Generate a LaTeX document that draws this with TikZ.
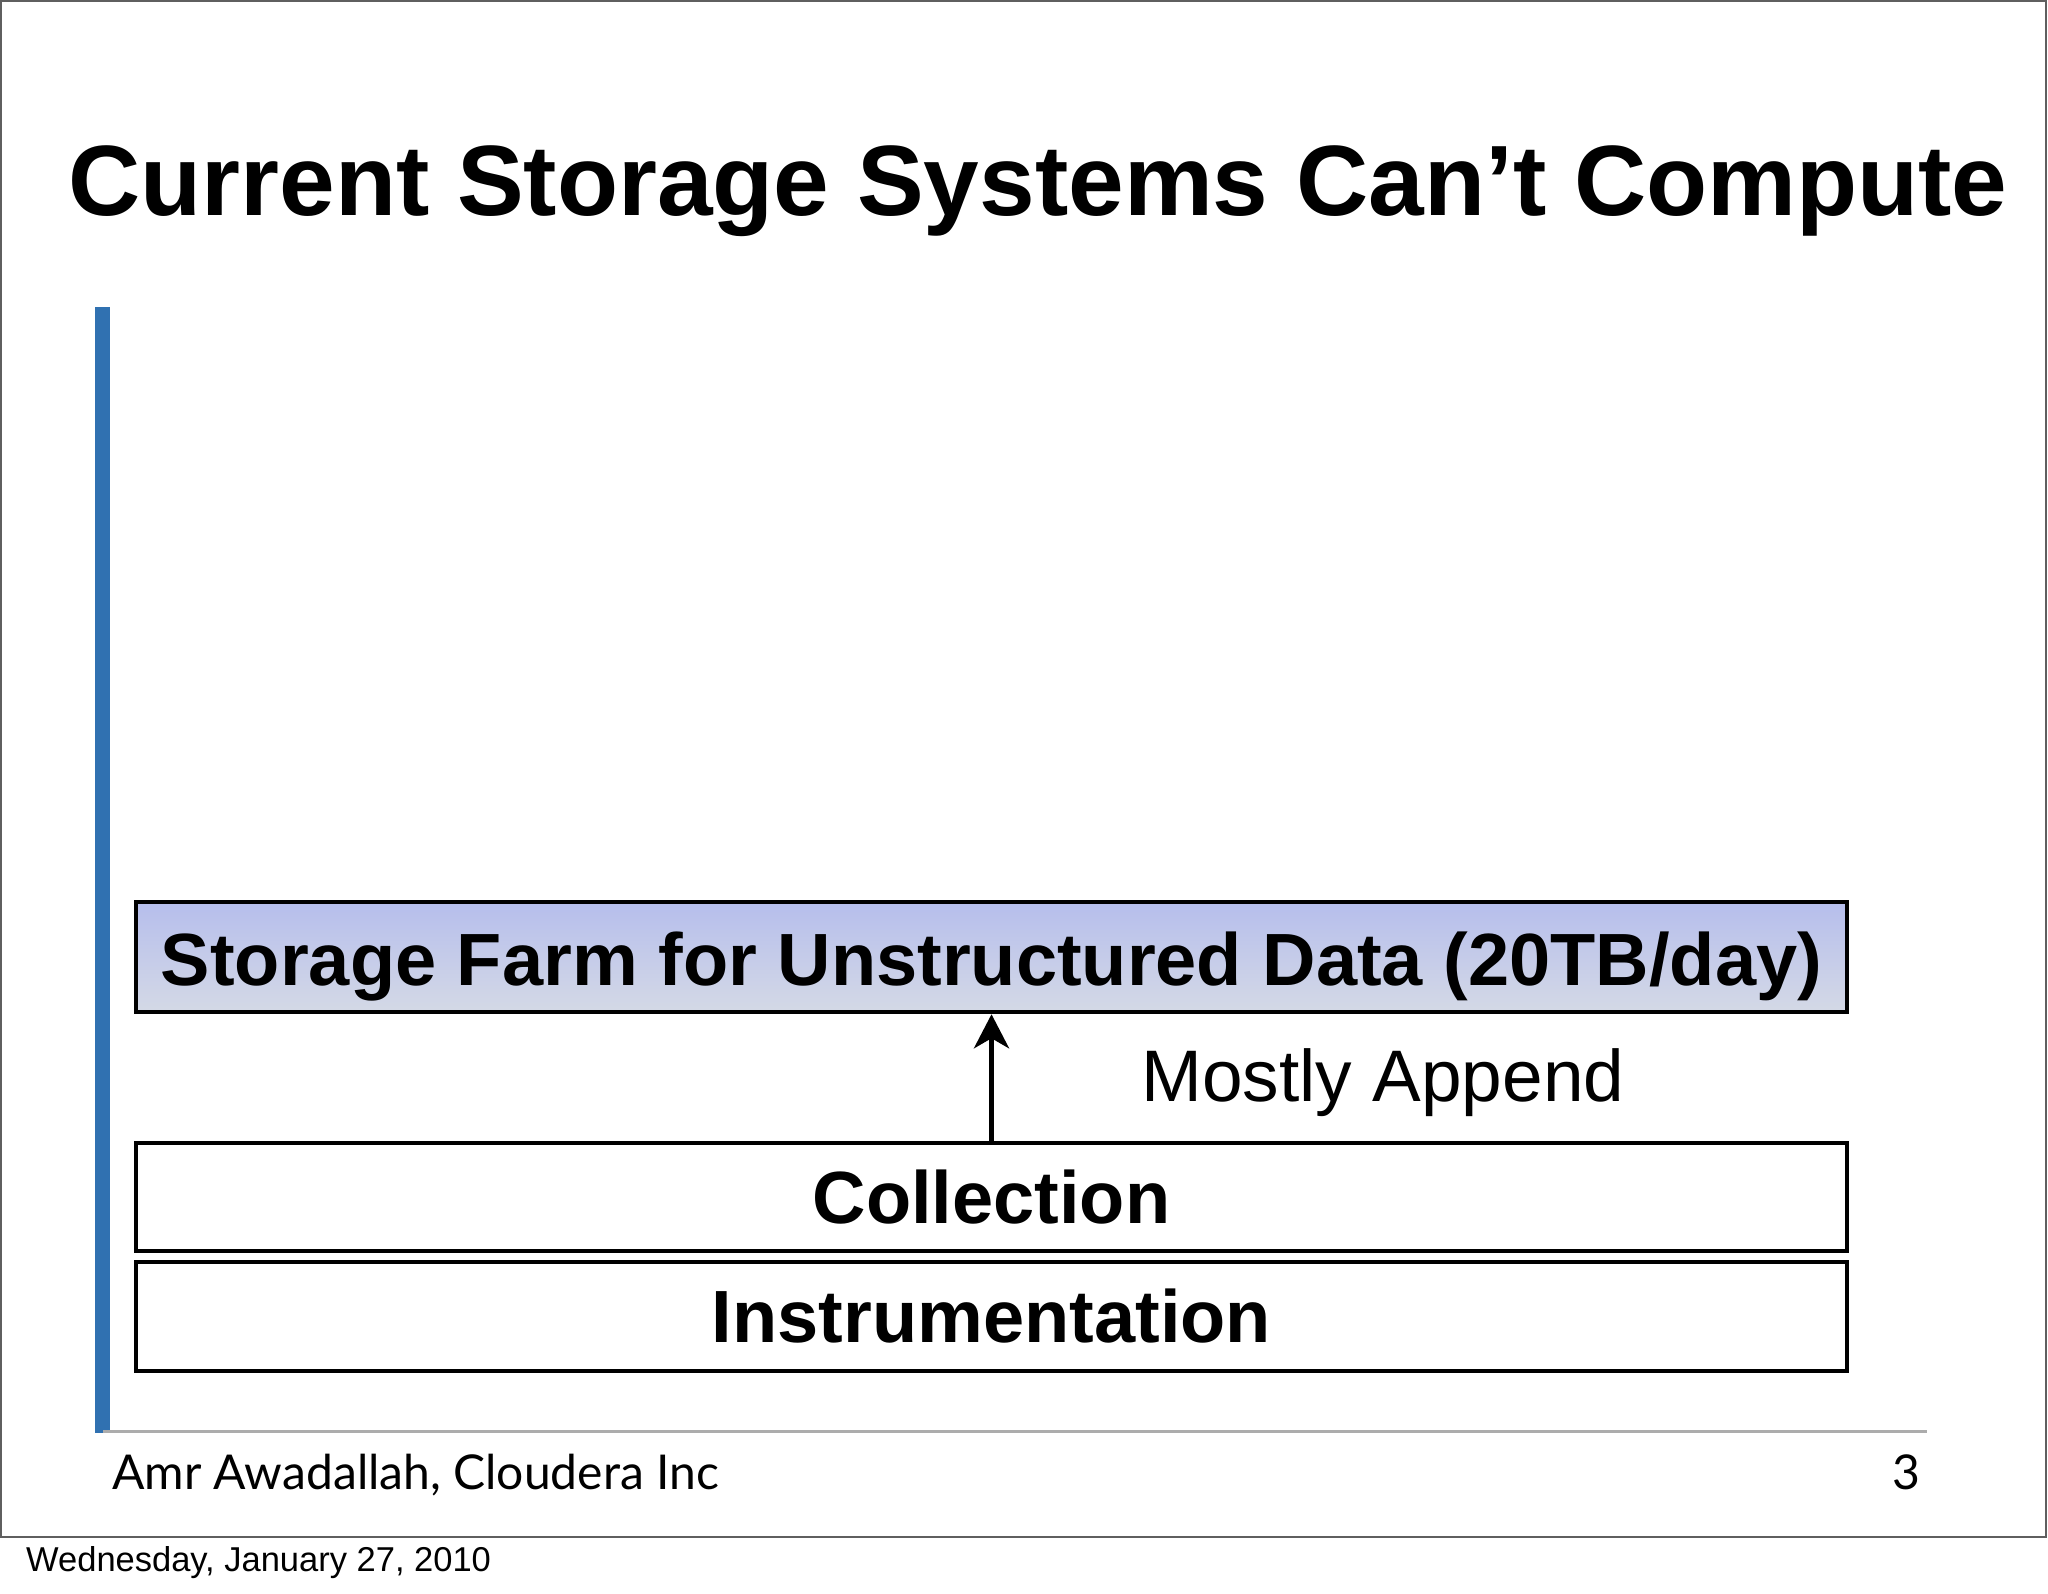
\documentclass[tikz,border=0pt]{standalone}
\usepackage{fontspec}
\setmainfont{Liberation Sans}
\newfontfamily\footerFont{Lato}
\usetikzlibrary{positioning,arrows.meta}
\tikzstyle{slide} = [x = 1pt, y = -1pt]
\definecolor{barColor}{RGB}{48,113,177}
\definecolor{ruleColor}{RGB}{172,172,172}
\definecolor{frameColor}{RGB}{95,95,95}
\definecolor{farmTop}{RGB}{182,190,236}
\definecolor{farmMid}{RGB}{224,231,252}
\definecolor{farmBottom}{RGB}{212,217,230}
\tikzstyle{layerStyle} = [draw=black, line width=4.5pt, minimum width=1711pt, inner sep=0pt]
\tikzstyle{layerText} = [font=\fontsize{74}{88}\selectfont\bfseries]
\tikzstyle{farmStyle} = [layerStyle, top color=farmTop, middle color=farmMid, bottom color=farmBottom]
\tikzstyle{appendArrow} = [line width=5pt, -{Stealth[length=34pt, width=35pt, inset=10pt]}]
\newcommand{\titleFont}{\fontsize{100}{120}\selectfont\bfseries}
\newcommand{\footFont}{\footerFont\fontsize{48}{58}\selectfont}

\begin{document}
\begin{tikzpicture}[slide]
          \useasboundingbox (0,0) rectangle (2048,1593);
          \fill [white] (0,0) rectangle (2048,1593);
          \draw [frameColor, line width=2pt] (1,1) rectangle (2046,1537);

          \node [anchor=base, inner sep=0pt] (title) at (1038,215) {\titleFont Current Storage Systems Can’t Compute};
          \fill [barColor] (95,307) rectangle (110,1433);
          \draw [ruleColor, line width=3pt] (103,1431) -- (1927,1431);

          \node [farmStyle, minimum height=110pt] (farm) at (991.5,957) {};
          \node [layerText, anchor=base, inner sep=0pt] (farmText) at (991.5,985) {Storage Farm for Unstructured Data (20TB/day)};
          \node [layerStyle, layerText, minimum height=108pt] (collection) at (991.5,1197) {Collection};
          \node [layerStyle, layerText, minimum height=109pt] (instrumentation) at (991.5,1316.5) {Instrumentation};
          \draw [appendArrow] (collection.north) -- (farm.south);
          \node [font=\fontsize{73}{88}\selectfont, inner sep=0pt] (append) at (1383,1083) {Mostly Append};

          \node [anchor=base west, inner sep=0pt] (author) at (112,1489) {\footFont Amr Awadallah, Cloudera Inc};
          \node [anchor=base east, inner sep=0pt] (page) at (1921,1489) {\footFont 3};
          \node [anchor=base west, inner sep=0pt, font=\fontsize{34.5}{40}\selectfont] (date) at (26,1571) {Wednesday, January 27, 2010};
        \end{tikzpicture}
\end{document}
